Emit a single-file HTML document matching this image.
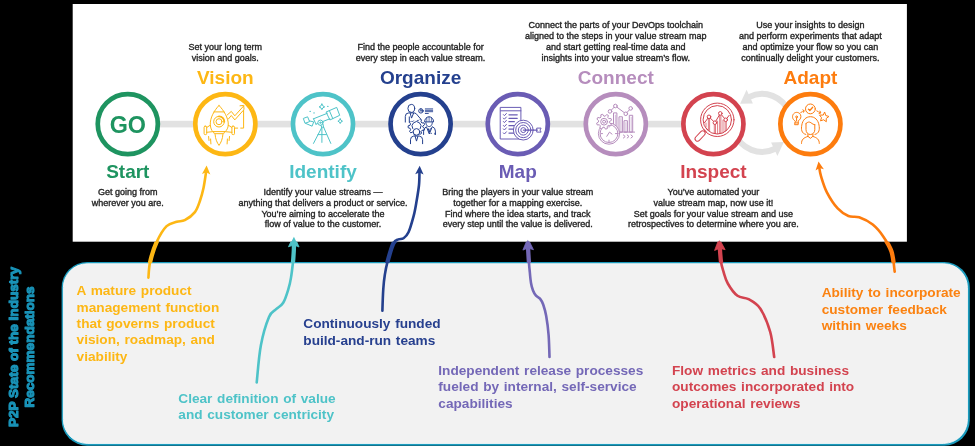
<!DOCTYPE html>
<html><head><meta charset="utf-8"><title>Value stream</title>
<style>
html,body{margin:0;padding:0;background:#000000;}
body{width:975px;height:446px;overflow:hidden;position:relative;font-family:"Liberation Sans",sans-serif;}
svg{position:absolute;left:0;top:0;display:block;will-change:transform}
text{font-family:"Liberation Sans",sans-serif;}
.d{font-size:9px;fill:#262626;stroke:#262626;stroke-width:0.36px;text-anchor:middle;}
.t{font-size:19px;font-weight:bold;text-anchor:middle;}
.b{font-size:13.65px;font-weight:bold;word-spacing:0.9px;}
.ic{fill:none;stroke-width:1;stroke-linecap:round;stroke-linejoin:round}
.ar{fill:none;stroke-width:2.6;stroke-linecap:round}
</style></head><body>
<svg width="975" height="446" viewBox="0 0 975 446">

<rect x="72.7" y="4" width="834.2" height="237.7" fill="#ffffff"/>
<rect x="61.6" y="262" width="908.2" height="183.8" rx="25.6" ry="25.6" fill="#1b9bbd"/>
<rect x="63.4" y="263.8" width="904" height="179.6" rx="23.8" ry="23.8" fill="#f2f2f2" stroke="#fafafa" stroke-width="0.9"/>
<rect x="127.8" y="120.8" width="585.6" height="6.6" fill="#e2e2e2"/>
<g fill="none" stroke="#e2e2e2" stroke-width="6">
<path d="M748.83,97.06 A29.0,29.0 0 0 1 789.25,112.98"/>
<path d="M734.75,132.82 A29.0,29.0 0 0 0 775.17,148.74"/>
</g>
<path d="M740.11,103.87 L746.57,89.82 L752.91,103.41 Z" fill="#e2e2e2"/>
<path d="M783.89,141.93 L777.43,155.98 L771.09,142.39 Z" fill="#e2e2e2"/>
<circle cx="127.8" cy="124.1" r="30.05" fill="#ffffff" stroke="#1e9460" stroke-width="4.7"/>
<circle cx="225.3" cy="124.1" r="30.05" fill="#ffffff" stroke="#fdb714" stroke-width="4.7"/>
<circle cx="323.0" cy="124.1" r="30.05" fill="#ffffff" stroke="#4ec3c8" stroke-width="4.7"/>
<circle cx="420.6" cy="124.1" r="30.05" fill="#ffffff" stroke="#24408e" stroke-width="4.7"/>
<circle cx="517.8" cy="124.1" r="30.05" fill="#ffffff" stroke="#6a5cb4" stroke-width="4.7"/>
<circle cx="615.8" cy="124.1" r="30.05" fill="#ffffff" stroke="#b68dbd" stroke-width="4.7"/>
<circle cx="713.4" cy="124.1" r="30.05" fill="#ffffff" stroke="#d3434f" stroke-width="4.7"/>
<circle cx="810.4" cy="124.1" r="30.05" fill="#ffffff" stroke="#fd7c0e" stroke-width="4.7"/>
<text x="127.8" y="133" font-size="23" font-weight="bold" fill="#1e9460" text-anchor="middle" textLength="36.3" lengthAdjust="spacingAndGlyphs">GO</text>
<text class="t" x="225.3" y="84" fill="#fdb714">Vision</text>
<text class="t" x="420.6" y="84" fill="#24408e">Organize</text>
<text class="t" x="615.8" y="84" fill="#b68dbd">Connect</text>
<text class="t" x="810.4" y="84" fill="#fd7c0e">Adapt</text>
<text class="t" x="127.8" y="178.4" fill="#1e9460">Start</text>
<text class="t" x="323.0" y="178.4" fill="#4ec3c8">Identify</text>
<text class="t" x="517.8" y="178.4" fill="#6a5cb4">Map</text>
<text class="t" x="713.4" y="178.4" fill="#d3434f">Inspect</text>
<text class="d" x="225.3" y="49.75">Set your long term</text>
<text class="d" x="225.3" y="60.50">vision and goals.</text>
<text class="d" x="420.6" y="49.75">Find the people accountable for</text>
<text class="d" x="420.6" y="60.50">every step in each value stream.</text>
<text class="d" x="615.8" y="28.25">Connect the parts of your DevOps toolchain</text>
<text class="d" x="615.8" y="39.00">aligned to the steps in your value stream map</text>
<text class="d" x="615.8" y="49.75">and start getting real-time data and</text>
<text class="d" x="615.8" y="60.50">insights into your value stream’s flow.</text>
<text class="d" x="810.4" y="28.25">Use your insights to design</text>
<text class="d" x="810.4" y="39.00">and perform experiments that adapt</text>
<text class="d" x="810.4" y="49.75">and optimize your flow so you can</text>
<text class="d" x="810.4" y="60.50">continually delight your customers.</text>
<text class="d" x="127.8" y="195.00">Get going from</text>
<text class="d" x="127.8" y="205.75">wherever you are.</text>
<text class="d" x="323.0" y="195.00">Identify your value streams —</text>
<text class="d" x="323.0" y="205.75">anything that delivers a product or service.</text>
<text class="d" x="323.0" y="216.50">You’re aiming to accelerate the</text>
<text class="d" x="323.0" y="227.25">flow of value to the customer.</text>
<text class="d" x="517.8" y="195.00">Bring the players in your value stream</text>
<text class="d" x="517.8" y="205.75">together for a mapping exercise.</text>
<text class="d" x="517.8" y="216.50">Find where the idea starts, and track</text>
<text class="d" x="517.8" y="227.25">every step until the value is delivered.</text>
<text class="d" x="713.4" y="195.00">You’ve automated your</text>
<text class="d" x="713.4" y="205.75">value stream map, now use it!</text>
<text class="d" x="713.4" y="216.50">Set goals for your value stream and use</text>
<text class="d" x="713.4" y="227.25">retrospectives to determine where you are.</text>
<text class="b" x="76.6" y="295.20" fill="#fdb714">A mature product</text>
<text class="b" x="76.6" y="311.60" fill="#fdb714">management function</text>
<text class="b" x="76.6" y="328.00" fill="#fdb714">that governs product</text>
<text class="b" x="76.6" y="344.40" fill="#fdb714">vision, roadmap, and</text>
<text class="b" x="76.6" y="360.80" fill="#fdb714">viability</text>
<text class="b" x="178.3" y="402.50" fill="#4ec3c8">Clear definition of value</text>
<text class="b" x="178.3" y="418.90" fill="#4ec3c8">and customer centricity</text>
<text class="b" x="303.3" y="328.10" fill="#27408f">Continuously funded</text>
<text class="b" x="303.3" y="344.50" fill="#27408f">build-and-run teams</text>
<text class="b" x="438.3" y="374.90" fill="#7468b7">Independent release processes</text>
<text class="b" x="438.3" y="391.30" fill="#7468b7">fueled by internal, self-service</text>
<text class="b" x="438.3" y="407.70" fill="#7468b7">capabilities</text>
<text class="b" x="672" y="374.90" fill="#d3434f">Flow metrics and business</text>
<text class="b" x="672" y="391.30" fill="#d3434f">outcomes incorporated into</text>
<text class="b" x="672" y="407.70" fill="#d3434f">operational reviews</text>
<text class="b" x="821.7" y="297.10" fill="#fb8210">Ability to incorporate</text>
<text class="b" x="821.7" y="313.50" fill="#fb8210">customer feedback</text>
<text class="b" x="821.7" y="329.90" fill="#fb8210">within weeks</text>
<g transform="translate(-0.5,347) rotate(-90)" fill="#1993b8" stroke="#1993b8" stroke-width="1.1" stroke-linejoin="round" font-size="13.55" font-weight="bold" text-anchor="middle">
<text x="0" y="18.6">P2P State of the Industry</text>
<text x="0" y="34.6">Recommendations</text>
</g>
<path class="ar" d="M148.4,277.7 C148.7,275.2 148.7,268.5 150.0,262.6 C151.3,256.7 153.7,248.5 156.5,242.4 C159.3,236.3 163.2,229.6 166.6,226.2 C170.0,222.8 173.7,222.8 176.7,221.8 C179.7,220.8 181.8,221.8 184.8,220.2 C187.8,218.6 192.4,215.3 194.9,212.1 C197.4,208.9 198.5,205.0 199.9,201.0 C201.3,197.0 202.5,192.7 203.5,188.0 C204.5,183.3 205.5,175.5 206.0,172.6 C206.5,169.7 206.2,170.8 206.3,170.5" stroke="#fdb714"/>
<path d="M0,-2 L4.2,6.6 L0,4.6 L-4.2,6.6 Z" fill="#fdb714" transform="translate(206.5,167.6) rotate(3)"/>
<path class="ar" d="M256.7,382.5 C257.4,376.3 258.8,356.2 260.9,345.3 C262.9,334.4 266.5,323.0 269.0,317.0 C271.5,311.0 273.7,311.6 276.1,309.2 C278.5,306.8 281.1,306.2 283.2,302.8 C285.3,299.4 287.2,292.9 288.5,288.7 C289.8,284.5 290.3,281.9 291.0,277.6 C291.7,273.3 292.4,267.5 292.9,263.0 C293.4,258.5 293.6,254.1 293.8,250.6 C294.0,247.1 293.9,243.4 293.9,242.0" stroke="#4ec3c8"/>
<path d="M0,-2 L4.2,6.6 L0,4.6 L-4.2,6.6 Z" fill="#4ec3c8" transform="translate(293.9,238.7) rotate(1)"/>
<path class="ar" d="M382.4,310.6 C382.5,307.0 382.9,294.7 383.3,288.8 C383.7,282.9 384.1,279.4 384.8,275.0 C385.5,270.6 385.9,267.9 387.3,262.6 C388.7,257.3 391.5,247.3 393.4,243.4 C395.2,239.5 396.7,240.2 398.4,239.4 C400.1,238.6 401.8,239.5 403.5,238.3 C405.2,237.1 406.8,236.0 408.5,232.3 C410.2,228.6 412.2,221.3 413.6,216.1 C415.0,210.9 415.7,206.2 416.6,201.0 C417.5,195.8 418.5,190.0 419.0,185.0 C419.5,180.0 419.4,173.3 419.5,171.0" stroke="#24408e"/>
<path d="M0,-2 L4.2,6.6 L0,4.6 L-4.2,6.6 Z" fill="#24408e" transform="translate(419.6,167.8) rotate(2)"/>
<path class="ar" d="M549.5,357.0 C549.4,353.3 549.1,341.8 548.6,335.0 C548.1,328.2 547.1,321.1 546.2,316.0 C545.3,310.9 544.2,307.4 543.2,304.5 C542.2,301.6 541.2,300.1 540.0,298.6 C538.8,297.1 537.2,297.0 536.0,295.6 C534.8,294.2 533.8,292.6 533.0,290.5 C532.2,288.4 531.5,286.1 531.0,283.0 C530.5,279.9 530.1,275.5 529.8,272.0 C529.4,268.5 529.2,266.3 528.9,262.0 C528.6,257.7 528.1,248.7 528.0,246.0" stroke="#7468b7"/>
<path d="M0,-2 L4.2,6.6 L0,4.6 L-4.2,6.6 Z" fill="#7468b7" transform="translate(527.9,241.7) rotate(-2)"/>
<path class="ar" d="M774.2,357.0 C773.5,352.8 772.5,340.0 770.2,331.9 C767.9,323.8 763.8,314.0 760.2,308.5 C756.6,303.0 752.3,301.2 748.5,299.1 C744.7,297.0 741.0,298.4 737.5,295.8 C734.0,293.2 730.1,287.5 727.8,283.5 C725.5,279.5 724.7,275.6 723.6,272.0 C722.5,268.4 721.6,266.1 721.0,261.8 C720.4,257.5 719.9,248.6 719.7,246.0" stroke="#d3434f"/>
<path d="M0,-2 L4.2,6.6 L0,4.6 L-4.2,6.6 Z" fill="#d3434f" transform="translate(719.3,241.9) rotate(-4)"/>
<path class="ar" d="M894.7,271.7 C894.2,268.3 893.4,257.3 891.5,251.5 C889.6,245.7 886.5,241.2 883.4,236.7 C880.3,232.2 876.7,227.8 872.7,224.6 C868.7,221.4 863.2,218.7 859.2,217.3 C855.2,215.9 852.0,217.5 848.4,216.0 C844.8,214.5 841.3,212.3 837.7,208.4 C834.1,204.5 829.7,197.7 826.9,192.3 C824.1,186.9 822.3,180.3 821.0,176.1 C819.7,171.9 819.5,168.5 819.2,167.0" stroke="#fd7c0e"/>
<path d="M0,-2 L4.2,6.6 L0,4.6 L-4.2,6.6 Z" fill="#fd7c0e" transform="translate(818.8,163.4) rotate(-8)"/>
<defs><clipPath id="gap"><path d="M0,241.7 H975 V263 H0 Z M0,0 H72.7 V241.7 H0 Z M906.9,0 H975 V241.7 H906.9 Z"/></clipPath></defs>
<g clip-path="url(#gap)">
<path d="M148.4,277.7 C148.7,275.2 148.7,268.5 150.0,262.6 C151.3,256.7 153.7,248.5 156.5,242.4 C159.3,236.3 163.2,229.6 166.6,226.2 C170.0,222.8 173.7,222.8 176.7,221.8 C179.7,220.8 181.8,221.8 184.8,220.2 C187.8,218.6 192.4,215.3 194.9,212.1 C197.4,208.9 198.5,205.0 199.9,201.0 C201.3,197.0 202.5,192.7 203.5,188.0 C204.5,183.3 205.5,175.5 206.0,172.6 C206.5,169.7 206.2,170.8 206.3,170.5" fill="none" stroke="#fdb714" stroke-width="4.3" stroke-linecap="round"/>
<path d="M0,-3.4 L5.3,8.2 L0,6.4 L-5.3,8.2 Z" fill="#fdb714" stroke="#fdb714" stroke-width="0.8" stroke-linejoin="round" transform="translate(206.5,167.6) rotate(3)"/>
<path d="M256.7,382.5 C257.4,376.3 258.8,356.2 260.9,345.3 C262.9,334.4 266.5,323.0 269.0,317.0 C271.5,311.0 273.7,311.6 276.1,309.2 C278.5,306.8 281.1,306.2 283.2,302.8 C285.3,299.4 287.2,292.9 288.5,288.7 C289.8,284.5 290.3,281.9 291.0,277.6 C291.7,273.3 292.4,267.5 292.9,263.0 C293.4,258.5 293.6,254.1 293.8,250.6 C294.0,247.1 293.9,243.4 293.9,242.0" fill="none" stroke="#4ec3c8" stroke-width="4.3" stroke-linecap="round"/>
<path d="M0,-3.4 L5.3,8.2 L0,6.4 L-5.3,8.2 Z" fill="#4ec3c8" stroke="#4ec3c8" stroke-width="0.8" stroke-linejoin="round" transform="translate(293.9,238.7) rotate(1)"/>
<path d="M382.4,310.6 C382.5,307.0 382.9,294.7 383.3,288.8 C383.7,282.9 384.1,279.4 384.8,275.0 C385.5,270.6 385.9,267.9 387.3,262.6 C388.7,257.3 391.5,247.3 393.4,243.4 C395.2,239.5 396.7,240.2 398.4,239.4 C400.1,238.6 401.8,239.5 403.5,238.3 C405.2,237.1 406.8,236.0 408.5,232.3 C410.2,228.6 412.2,221.3 413.6,216.1 C415.0,210.9 415.7,206.2 416.6,201.0 C417.5,195.8 418.5,190.0 419.0,185.0 C419.5,180.0 419.4,173.3 419.5,171.0" fill="none" stroke="#24408e" stroke-width="4.3" stroke-linecap="round"/>
<path d="M0,-3.4 L5.3,8.2 L0,6.4 L-5.3,8.2 Z" fill="#24408e" stroke="#24408e" stroke-width="0.8" stroke-linejoin="round" transform="translate(419.6,167.8) rotate(2)"/>
<path d="M549.5,357.0 C549.4,353.3 549.1,341.8 548.6,335.0 C548.1,328.2 547.1,321.1 546.2,316.0 C545.3,310.9 544.2,307.4 543.2,304.5 C542.2,301.6 541.2,300.1 540.0,298.6 C538.8,297.1 537.2,297.0 536.0,295.6 C534.8,294.2 533.8,292.6 533.0,290.5 C532.2,288.4 531.5,286.1 531.0,283.0 C530.5,279.9 530.1,275.5 529.8,272.0 C529.4,268.5 529.2,266.3 528.9,262.0 C528.6,257.7 528.1,248.7 528.0,246.0" fill="none" stroke="#7468b7" stroke-width="4.3" stroke-linecap="round"/>
<path d="M0,-3.4 L5.3,8.2 L0,6.4 L-5.3,8.2 Z" fill="#7468b7" stroke="#7468b7" stroke-width="0.8" stroke-linejoin="round" transform="translate(527.9,241.7) rotate(-2)"/>
<path d="M774.2,357.0 C773.5,352.8 772.5,340.0 770.2,331.9 C767.9,323.8 763.8,314.0 760.2,308.5 C756.6,303.0 752.3,301.2 748.5,299.1 C744.7,297.0 741.0,298.4 737.5,295.8 C734.0,293.2 730.1,287.5 727.8,283.5 C725.5,279.5 724.7,275.6 723.6,272.0 C722.5,268.4 721.6,266.1 721.0,261.8 C720.4,257.5 719.9,248.6 719.7,246.0" fill="none" stroke="#d3434f" stroke-width="4.3" stroke-linecap="round"/>
<path d="M0,-3.4 L5.3,8.2 L0,6.4 L-5.3,8.2 Z" fill="#d3434f" stroke="#d3434f" stroke-width="0.8" stroke-linejoin="round" transform="translate(719.3,241.9) rotate(-4)"/>
<path d="M894.7,271.7 C894.2,268.3 893.4,257.3 891.5,251.5 C889.6,245.7 886.5,241.2 883.4,236.7 C880.3,232.2 876.7,227.8 872.7,224.6 C868.7,221.4 863.2,218.7 859.2,217.3 C855.2,215.9 852.0,217.5 848.4,216.0 C844.8,214.5 841.3,212.3 837.7,208.4 C834.1,204.5 829.7,197.7 826.9,192.3 C824.1,186.9 822.3,180.3 821.0,176.1 C819.7,171.9 819.5,168.5 819.2,167.0" fill="none" stroke="#fd7c0e" stroke-width="4.3" stroke-linecap="round"/>
<path d="M0,-3.4 L5.3,8.2 L0,6.4 L-5.3,8.2 Z" fill="#fd7c0e" stroke="#fd7c0e" stroke-width="0.8" stroke-linejoin="round" transform="translate(818.8,163.4) rotate(-8)"/>
</g>
<g class="ic" stroke="#fdb714" stroke-width="1.25" transform="translate(225.3,124.1)">
<path d="M-6.3,-18.6 C-11,-14 -15.4,-6 -15,0.5 C-14.8,4 -13.6,6.3 -12.6,7.5 L0,7.5 C1.4,6 2.9,4 3,0.5 C3.2,-6 -1.6,-14 -6.3,-18.6 Z"/>
<path d="M-11.3,-12.2 H-1.3"/>
<circle cx="-6.3" cy="-2.4" r="5.3"/><circle cx="-6.3" cy="-2.4" r="3"/>
<path d="M-6.3,-7.7 A5.3,5.3 0 0 1 -1,-2.4" stroke-width="1.8"/>
<rect x="-21.2" y="2.1" width="2.6" height="8.4" rx="1"/>
<rect x="6.6" y="2.1" width="2.6" height="8.4" rx="1"/>
<path d="M-14.9,1 L-18.6,3.4 M-18.6,8.2 L-12.9,7.6 M2.9,1 L6.6,3.4 M6.6,8.2 L0.3,7.6"/>
<path d="M-12,7.5 L-11,9.6 H-1.6 L-0.6,7.5"/>
<path d="M-10.2,10.4 C-10,15 -8,19 -6.3,21.3 C-4.6,19 -2.6,15 -2.4,10.4"/>
<path d="M-16.7,12.4 L-16.3,16.4 M-14.7,14.9 L-14.4,19.8 M2.1,14.9 L1.8,19.8 M4.2,12.4 L3.8,16.4"/>
<path d="M2.1,-9.3 L6,-12.7 L9.5,-8.3 L18.3,-18.1"/>
<path d="M3,-5 L6,-8.6 L9.5,-4.2 L17.9,-13.6"/>
<path d="M14.7,-18.3 L18.4,-18.7 L18.7,-15"/>
<path d="M18.3,-14.2 V4 H15.4 M12.4,4 H10"/>
</g>
<g class="ic" stroke="#4ec3c8" stroke-width="1.25" transform="translate(323.0,124.1)">
<path d="M3.4,-12.2 L13.7,-16.7 L16.7,-8.8 L7.3,-4.3 Z"/>
<path d="M6.4,-13.4 L9.8,-5.4"/>
<path d="M-9.5,-5.3 L4.3,-10.8 M-7,0.1 L6.8,-5.3 M-9.5,-5.3 L-7,0.1"/>
<path d="M-19.3,-5.8 L-15.4,-7.3 L-13.4,-2.5 L-17.6,-0.9 Z"/>
<path d="M-17.3,-0.7 L-10.9,2.1 L-9.3,-2.2 L-13.6,-3.2"/>
<circle cx="-2.6" cy="-1.4" r="2.6" fill="#fff"/><circle cx="-2.6" cy="-1.4" r="0.7"/>
<path d="M-2.2,1.2 L-1.1,3.3 M0,0 L0.6,3.3"/>
<path d="M-1.1,3.1 L-9.5,19.3 M-1.1,3.1 L-1.1,18.3 M0.6,3.1 L7.8,19.3 M-5,10.5 H3.4"/>
<path d="M-1.1,-20 Q-0.6,-17.7 1.7,-17.2 Q-0.6,-16.7 -1.1,-14.4 Q-1.6,-16.7 -3.9,-17.2 Q-1.6,-17.7 -1.1,-20 Z"/>
<path d="M17.2,-5.2 Q17.6,-3.3 19.5,-2.9 Q17.6,-2.5 17.2,-0.6 Q16.8,-2.5 14.9,-2.9 Q16.8,-3.3 17.2,-5.2 Z"/>
<path d="M-12.9,-12.7 h0.1 M-9,-11.2 h0.1 M4.8,-17.7 h0.1" stroke-width="1.4"/>
</g>
<g class="ic" stroke="#24408e" stroke-width="1.25" transform="translate(420.6,124.1)">
<path d="M2.47,3.26 L4.09,4.48 L3.47,6.25 L1.44,6.19 L0.51,7.33 L0.96,9.30 L-0.65,10.26 L-2.16,8.91 L-3.61,9.18 L-4.53,10.99 L-6.38,10.69 L-6.67,8.68 L-7.95,7.96 L-9.82,8.75 L-11.04,7.33 L-9.98,5.60 L-10.50,4.23 L-12.44,3.63 L-12.46,1.76 L-10.53,1.12 L-10.05,-0.27 L-11.15,-1.97 L-9.96,-3.41 L-8.08,-2.67 L-6.81,-3.42 L-6.57,-5.43 L-4.73,-5.78 L-3.76,-3.99 L-2.31,-3.75 L-0.83,-5.14 L0.81,-4.22 L0.40,-2.23 L1.35,-1.12 L3.38,-1.22 L4.04,0.53 L2.45,1.79 Z"/>
<ellipse cx="-9.3" cy="-15.7" rx="3.4" ry="4" fill="#fff"/>
<path d="M-15.3,-2 V-7.6 Q-15.3,-11.2 -11.8,-11.2 H-6.4 Q-4.4,-11.2 -2.6,-8.2 L0.4,-4.8" fill="#fff"/>
<path d="M-10.4,-10.9 L-9.1,-6 L-7,-10.9 M-11.3,-2 V-7.2"/>
<path d="M-7.9,4.5 A4.5,4.5 0 1 1 -0.3,4.5"/>
<circle cx="-4.1" cy="7.8" r="3.3" fill="#fff"/>
<path d="M-10.1,19.6 V15.6 Q-10.1,12.4 -6.8,11.9 H-1.4 Q2,12.4 2,15.6 V19.6" fill="#fff"/>
<path d="M-5.5,12.2 L-4.1,17 L-2.7,12.2"/>
<path d="M5.4,2.9 Q3,4 3,7 V10.4 M12,2.7 Q14.8,3.6 14.8,7 V10.4"/>
<path d="M5.9,2.9 L8.7,9.9 L11.5,2.9 M7.7,4.6 L8.7,8.2 L9.7,4.6"/>
<path d="M5.2,-2.4 C5.2,1 6.8,2.5 8.5,2.5 C10.2,2.5 11.8,1 11.8,-2.4" fill="#fff"/>
<path d="M4,-2.6 A4.5,4.7 0 0 1 13,-2.6 Z" fill="#fff"/>
<path d="M8.5,-7.2 V-2.8 M6.2,-6.4 V-2.8 M10.8,-6.4 V-2.8" stroke-width="0.7"/>
<path d="M10.5,9.2 h0.1 M14.4,9.4 v0.6" stroke-width="1.3"/>
<circle cx="0.3" cy="-13.2" r="2.2"/><path d="M0.3,-13.2 V-15.4 M0.3,-13.2 H2.5"/>
<path d="M4.7,-15.2 H12.1 M4.7,-13.8 H12.1 M4.7,-12.4 H12.1 M4.7,-10.6 H7.7" stroke-width="0.9"/>
</g>
<g class="ic" stroke="#6a5cb4" stroke-width="1.25" transform="translate(517.8,124.1)">
<rect x="-17.2" y="-16.7" width="20.3" height="31.6"/>
<path d="M-17.2,-13.3 H3.1"/>
<path d="M-14.4,-9.5 l1,1.1 l2,-2.2"/><path d="M-14.4,-6.0 l1,1.1 l2,-2.2"/><path d="M-14.4,-2.6 l1,1.1 l2,-2.2"/><path d="M-14.4,1.4000000000000001 l1,1.1 l2,-2.2"/><path d="M-14.4,4.8 l1,1.1 l2,-2.2"/><path d="M-14.4,8.8 l1,1.1 l2,-2.2"/><path d="M-8.8,-9.3 H-0.6" stroke-width="1.3"/><path d="M-8.8,-5.8 H-0.6" stroke-width="1.3"/><path d="M-8.8,-2.4 H-3.5" stroke-width="1.3"/><path d="M-8.8,1.6 H-3.5" stroke-width="1.3"/><path d="M-8.8,5 H-3.5" stroke-width="1.3"/><path d="M-8.8,9 H-3.5" stroke-width="1.3"/>
<circle cx="5.5" cy="6" r="9.9" fill="#fff"/>
<circle cx="5.5" cy="6" r="7.6"/><circle cx="5.5" cy="6" r="5"/><circle cx="5.5" cy="6" r="2.5"/>
<path d="M5.5,6 H19.5" stroke-width="1.2"/>
<path d="M19.3,4 H23.3 L22.2,6 L23.3,8 H19.3 Z"/>
</g>
<g class="ic" stroke="#b68dbd" stroke-width="1.25" transform="translate(615.8,124.1)">
<path d="M-2.4,8 H18.8"/>
<rect x="-1.9" y="-11.2" width="3" height="19.2"/><path d="M-0.4,-9 V8" stroke-width="0.6"/>
<rect x="3.6" y="-7.3" width="3" height="15.3"/><path d="M5.1,-5.5 V8" stroke-width="0.6"/>
<rect x="8.6" y="-3.4" width="3" height="11.4"/><path d="M10.1,-1.5 V8" stroke-width="0.6"/>
<rect x="13.9" y="-8.8" width="3" height="16.8"/><path d="M15.4,-7 V8" stroke-width="0.6"/>
<path d="M-5.8,-12.7 L-0.4,-18.1 L10,-10.3 L14.9,-15.7"/>
<circle cx="-5.8" cy="-12.7" r="1.8" fill="#fff"/><circle cx="-0.4" cy="-18.1" r="1.8" fill="#fff"/><circle cx="10" cy="-10.3" r="1.8" fill="#fff"/><circle cx="14.9" cy="-15.7" r="1.8" fill="#fff"/>
<circle cx="-6.8" cy="9.5" r="10.6" fill="#fff"/><circle cx="-6.8" cy="9.5" r="8.9"/>
<path d="M-9,12.2 L-6.3,8 L-3.8,10"/>
<path d="M-6.8,1.4 v1.6 M-6.8,17.6 v-1.6 M-14.9,9.5 h1.6 M1.3,9.5 h-1.6"/>
<path d="M-6.21,-1.29 L-4.54,0.14 L-5.40,1.85 L-7.54,1.35 L-8.61,2.27 L-8.44,4.46 L-10.24,5.06 L-11.41,3.19 L-12.81,3.09 L-14.24,4.76 L-15.95,3.90 L-15.45,1.76 L-16.37,0.69 L-18.56,0.86 L-19.16,-0.94 L-17.29,-2.11 L-17.19,-3.51 L-18.86,-4.94 L-18.00,-6.65 L-15.86,-6.15 L-14.79,-7.07 L-14.96,-9.26 L-13.16,-9.86 L-11.99,-7.99 L-10.59,-7.89 L-9.16,-9.56 L-7.45,-8.70 L-7.95,-6.56 L-7.03,-5.49 L-4.84,-5.66 L-4.24,-3.86 L-6.11,-2.69 Z" fill="#fff"/>
<circle cx="-11.7" cy="-2.4" r="3.4"/><circle cx="-11.7" cy="-2.4" r="1.5"/>
<path d="M7.6,10.9 l1.8,1.5 l-1.8,1.5 M11.4,10.9 l1.8,1.5 l-1.8,1.5 M15.2,10.9 l1.8,1.5 l-1.8,1.5"/>
</g>
<g class="ic" stroke="#d3434f" stroke-width="1.25" transform="translate(713.4,124.1)">
<circle cx="3.9" cy="-4.3" r="16.7"/><circle cx="3.9" cy="-4.3" r="14.2"/>
<g transform="translate(-13.3,11.9) rotate(-46.7)"><rect x="-6.2" y="-2.5" width="12.4" height="5" rx="2.5" fill="#fff"/></g>
<path d="M-9.2,5.4 L-7.2,7.6 M-7.4,3.8 L-5.6,5.8"/>
<path d="M-8.9,-1.4 L-4.4,-7.3 L1.5,-1.4 L6.9,-10.7 L12.3,-4.3 L15.8,-8.8"/>
<path d="M-5,-5 V5.6 M-3.8,-5 V6.4 M0.9,0.5 V9.2 M2.1,0.5 V9.4 M6.3,-8.6 V9.5 M7.5,-8.6 V9.3 M11.7,-2.4 V7.4 M12.9,-2.4 V6.4 M-7.4,-1 V2.5 M9.6,-4 V8.6 M4.2,-3 V9.6" stroke-width="0.7"/>
<circle cx="-4.4" cy="-7.3" r="1.8" fill="#fff"/><circle cx="1.5" cy="-1.4" r="1.8" fill="#fff"/><circle cx="6.9" cy="-10.7" r="1.8" fill="#fff"/><circle cx="12.3" cy="-4.3" r="1.8" fill="#fff"/>
</g>
<g class="ic" stroke="#fd7c0e" stroke-width="1.25" transform="translate(810.4,124.1)">
<path d="M-4.6,10.3 C-9,9.5 -9.4,5 -8.6,1 C-7.8,-4 -4.5,-7.4 0,-7.4 C4.5,-7.4 7.8,-4 8.6,1 C9.4,5 9,9.5 4.6,10.3"/>
<path d="M-4.4,-0.6 V5.6 C-4.4,8.4 -2.4,10.4 0,10.4 C2.4,10.4 4.4,8.4 4.4,5.6 V0.6"/>
<path d="M-4.4,-0.6 C-2.5,-2.4 -1,-2.4 0.5,-1.4 C2,-0.2 3.3,0.6 4.4,0.6"/>
<path d="M-2.5,10 V12.2 L0,14.2 L2.5,12.2 V10"/>
<path d="M-8.9,19.3 C-8.9,15.4 -7,13.8 -2.5,12.3 M8.9,19.3 C8.9,15.4 7,13.8 2.5,12.3"/>
<path d="M-15.4,-3.2 C-18.2,-4.6 -18.6,-8.2 -16.8,-10.3 C-14.8,-12.6 -11.2,-12 -9.9,-9.4 C-8.9,-7.2 -9.8,-4.6 -12.2,-3.2 V0.6 H-15.4 Z"/>
<path d="M-13.8,-3 V-6.2" /><circle cx="-13.8" cy="-7.2" r="0.9"/>
<path d="M-15.4,-1.2 H-12.2"/>
<circle cx="0" cy="-15.2" r="4.9"/><path d="M-2,-15 L-0.6,-13.6 L2.3,-16.8" stroke-width="1.3"/>
<path d="M14.35,-11.74 L15.36,-8.58 L18.53,-7.62 L15.84,-5.68 L15.90,-2.36 L13.23,-4.33 L10.09,-3.24 L11.13,-6.39 L9.13,-9.04 L12.45,-9.02 Z"/>
<path d="M-9.6,-11.6 L-6.6,-13.2" stroke-dasharray="1.4 1"/><path d="M-7.6,-14.2 L-6.2,-13.4 L-6.8,-11.9"/>
<path d="M6.4,-13.2 L9.8,-11.4" stroke-dasharray="1.4 1"/><path d="M9.6,-13 L10.4,-11.2 L8.6,-10.6"/>
</g>
</svg></body></html>
